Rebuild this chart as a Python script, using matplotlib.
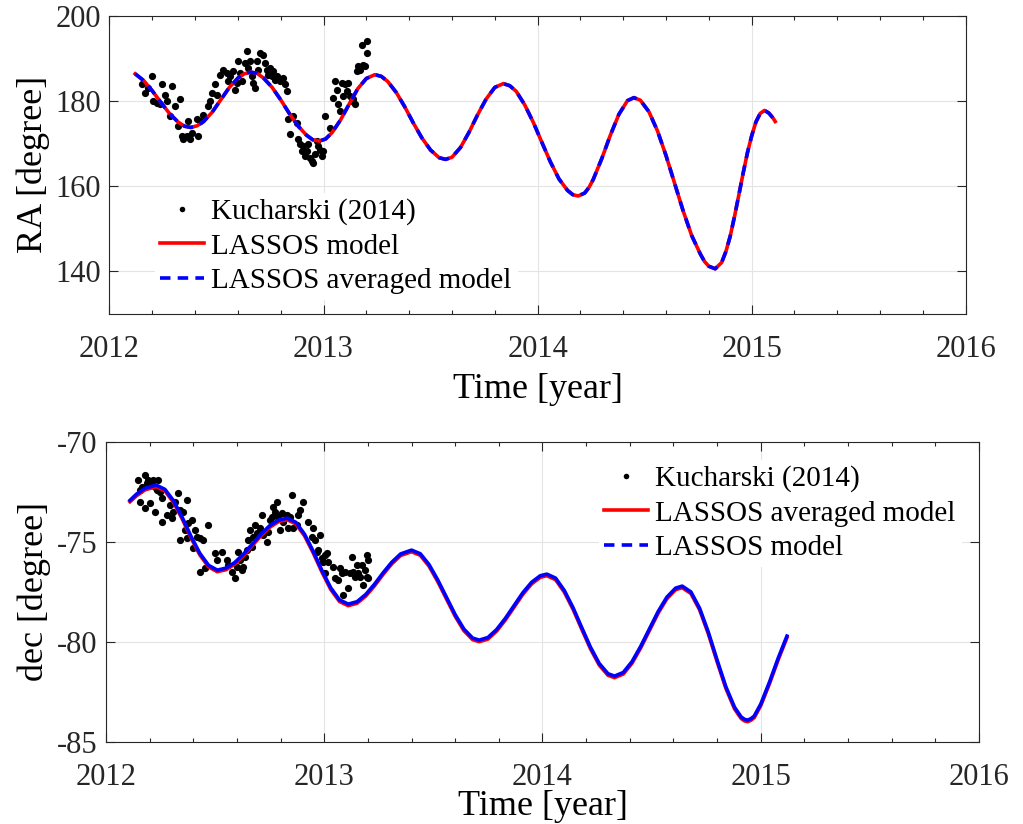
import matplotlib
matplotlib.use('Agg')
import matplotlib.pyplot as plt
from matplotlib.lines import Line2D
from matplotlib.ticker import MultipleLocator

plt.rcParams['font.family'] = ['Liberation Serif', 'DejaVu Serif']
plt.rcParams['axes.unicode_minus'] = False

# ---- RA panel: observations (Kucharski 2014)
obs_ra_t = [2012.150, 2012.166, 2012.181, 2012.197, 2012.205, 2012.220, 2012.236, 2012.244, 2012.259,
            2012.267, 2012.283, 2012.290, 2012.306, 2012.322, 2012.329, 2012.337, 2012.345, 2012.361,
            2012.368, 2012.376, 2012.384, 2012.407, 2012.415, 2012.423, 2012.438, 2012.462, 2012.470,
            2012.477, 2012.493, 2012.501, 2012.516, 2012.532, 2012.547, 2012.555, 2012.563, 2012.579,
            2012.586, 2012.594, 2012.602, 2012.610, 2012.618, 2012.633, 2012.641, 2012.649, 2012.656,
            2012.664, 2012.672, 2012.680, 2012.688, 2012.695, 2012.703, 2012.719, 2012.727, 2012.734,
            2012.742, 2012.750, 2012.758, 2012.766, 2012.773, 2012.781, 2012.797, 2012.812, 2012.820,
            2012.828, 2012.836, 2012.843, 2012.859, 2012.875, 2012.882, 2012.890, 2012.898, 2012.906,
            2012.913, 2012.921, 2012.929, 2012.937, 2012.945, 2012.952, 2012.960, 2012.968, 2012.976,
            2012.984, 2012.991, 2012.999, 2013.007, 2013.030, 2013.046, 2013.054, 2013.061, 2013.069,
            2013.077, 2013.085, 2013.093, 2013.100, 2013.108, 2013.116, 2013.124, 2013.132, 2013.139,
            2013.147, 2013.155, 2013.163, 2013.171, 2013.178, 2013.186, 2013.194, 2013.202, 2013.202]
obs_ra = [183.9, 181.9, 183.1, 185.8, 180.0, 179.6, 179.2, 183.9, 181.5,
          180.0, 176.5, 183.5, 178.8, 174.1, 180.4, 171.8, 171.0, 171.8,
          175.3, 171.0, 172.6, 175.7, 171.8, 175.3, 176.8, 178.8, 180.0,
          181.9, 183.9, 181.5, 186.2, 187.4, 186.6, 184.6, 185.8, 187.0,
          182.7, 184.3, 189.3, 186.6, 184.6, 188.9, 191.7, 187.8, 189.3,
          185.8, 184.3, 183.1, 189.3, 187.4, 191.3, 190.9, 188.9, 187.4,
          186.2, 187.8, 185.8, 187.0, 185.0, 185.8, 184.6, 185.4, 183.9,
          182.3, 175.7, 172.2, 176.5, 174.9, 171.0, 169.8, 168.3, 169.4,
          167.1, 168.3, 169.8, 166.7, 165.9, 165.5, 167.5, 170.6, 169.4,
          168.6, 167.1, 168.3, 176.5, 173.7, 180.8, 184.6, 182.7, 179.2,
          177.6, 184.3, 181.1, 183.9, 182.3, 184.3, 181.1, 180.0, 180.4,
          179.2, 187.0, 188.2, 187.4, 193.2, 188.5, 188.2, 194.0, 191.3]

# ---- RA panel: models
ra_t = [2012.12, 2012.16, 2012.20, 2012.24, 2012.28, 2012.32, 2012.35, 2012.38, 2012.41,
        2012.44, 2012.48, 2012.52, 2012.56, 2012.60, 2012.63, 2012.66, 2012.69,
        2012.72, 2012.76, 2012.80, 2012.84, 2012.88, 2012.92, 2012.95, 2012.98, 2013.01,
        2013.04, 2013.08, 2013.12, 2013.16, 2013.20, 2013.24, 2013.27,
        2013.30, 2013.34, 2013.38, 2013.42, 2013.46, 2013.50, 2013.54, 2013.57, 2013.60,
        2013.64, 2013.68, 2013.72, 2013.76, 2013.80, 2013.84, 2013.87,
        2013.90, 2013.94, 2013.98, 2014.02, 2014.06, 2014.10, 2014.14, 2014.165, 2014.19, 2014.22, 2014.24,
        2014.26, 2014.30, 2014.34, 2014.38, 2014.42, 2014.45, 2014.48,
        2014.52, 2014.56, 2014.60, 2014.64, 2014.68, 2014.72, 2014.76, 2014.78, 2014.80, 2014.83,
        2014.86, 2014.88, 2014.90, 2014.92, 2014.94, 2014.96, 2014.98, 2015.00, 2015.02, 2015.04,
        2015.06, 2015.08, 2015.10, 2015.11]
ra_model = [186.4, 184.8, 182.4, 179.7, 177.1, 175.1, 174.1, 173.8, 174.2,
            175.2, 177.4, 180.3, 183.2, 185.4, 186.4, 186.8, 186.5,
            185.4, 183.2, 180.3, 177.1, 174.2, 172.0, 170.9, 170.6, 171.1,
            172.6, 175.6, 179.3, 182.9, 185.3, 186.2, 185.8,
            184.6, 182.0, 178.6, 174.8, 171.3, 168.5, 166.7, 166.3, 166.8,
            169.1, 172.7, 176.8, 180.5, 183.2, 184.1, 183.6,
            182.3, 179.1, 175.0, 170.3, 165.7, 161.7, 159.0, 158.0, 157.7, 158.4, 159.7,
            161.6, 166.5, 172.0, 176.9, 180.1, 180.8, 180.2,
            177.5, 173.0, 167.2, 160.7, 154.2, 148.4, 144.1, 142.3, 141.2, 140.6,
            142.1, 144.7, 148.3, 152.9, 157.9, 163.0, 167.8, 171.8, 175.1, 177.1,
            177.8, 177.2, 176.0, 175.2]
ra_avg = [186.4, 184.8, 182.4, 179.7, 177.1, 175.1, 174.1, 173.8, 174.2,
          175.2, 177.4, 180.3, 183.2, 185.4, 186.4, 186.8, 186.5,
          185.4, 183.2, 180.3, 177.1, 174.2, 172.0, 170.9, 170.6, 171.1,
          172.6, 175.6, 179.3, 182.9, 185.3, 186.2, 185.8,
          184.6, 182.0, 178.6, 174.8, 171.3, 168.5, 166.7, 166.3, 166.8,
          169.1, 172.7, 176.8, 180.5, 183.2, 184.1, 183.6,
          182.3, 179.1, 175.0, 170.3, 165.7, 161.7, 159.0, 158.0, 157.7, 158.4, 159.7,
          161.6, 166.5, 172.0, 176.9, 180.1, 180.8, 180.2,
          177.5, 173.0, 167.2, 160.7, 154.2, 148.4, 144.1, 142.3, 141.2, 140.6,
          142.1, 144.7, 148.3, 152.9, 157.9, 163.0, 167.8, 171.8, 175.1, 177.1,
          177.8, 177.2, 176.0, 175.2]

# ---- dec panel: observations
obs_dec_t = [2012.148, 2012.156, 2012.163, 2012.179, 2012.186, 2012.194, 2012.209, 2012.217, 2012.224,
             2012.232, 2012.240, 2012.247, 2012.255, 2012.156, 2012.179, 2012.201, 2012.224, 2012.255,
             2012.278, 2012.301, 2012.308, 2012.293, 2012.316, 2012.331, 2012.339, 2012.354, 2012.362,
             2012.369, 2012.377, 2012.392, 2012.408, 2012.400, 2012.339, 2012.369, 2012.415, 2012.431,
             2012.446, 2012.469, 2012.431, 2012.453, 2012.499, 2012.507, 2012.530, 2012.553, 2012.560,
             2012.576, 2012.591, 2012.599, 2012.606, 2012.614, 2012.621, 2012.629, 2012.637, 2012.644,
             2012.652, 2012.660, 2012.667, 2012.675, 2012.683, 2012.690, 2012.705, 2012.713, 2012.721,
             2012.736, 2012.744, 2012.751, 2012.759, 2012.767, 2012.774, 2012.782, 2012.789, 2012.797,
             2012.805, 2012.812, 2012.828, 2012.835, 2012.843, 2012.851, 2012.858, 2012.873, 2012.881,
             2012.889, 2012.904, 2012.927, 2012.942, 2012.950, 2012.957, 2012.965, 2012.973, 2012.980,
             2012.988, 2012.996, 2013.003, 2013.011, 2013.019, 2013.003, 2013.041, 2013.049, 2013.064,
             2013.072, 2013.080, 2013.087, 2013.095, 2013.110, 2013.118, 2013.125, 2013.133, 2013.141,
             2013.148, 2013.156, 2013.164, 2013.171, 2013.179, 2013.187, 2013.194, 2013.194, 2013.202,
             2013.202]
obs_dec = [-71.92, -72.42, -72.25, -71.67, -72.08, -71.92, -72.08, -71.92, -72.25,
           -72.42, -71.92, -72.50, -72.83, -73.00, -73.33, -73.08, -73.50, -74.00,
           -73.67, -73.83, -73.50, -73.17, -73.00, -72.58, -73.42, -73.50, -74.42,
           -72.92, -74.08, -73.92, -74.42, -75.33, -74.92, -74.83, -74.75, -74.83,
           -74.92, -74.17, -76.50, -76.33, -75.58, -75.92, -75.50, -75.92, -76.17,
           -76.50, -76.83, -76.25, -75.50, -75.92, -76.42, -76.25, -75.75, -75.42,
           -74.92, -74.42, -75.25, -74.75, -74.17, -74.58, -74.33, -73.67, -74.67,
           -75.00, -74.50, -73.92, -73.75, -73.25, -73.50, -73.00, -73.75, -74.42,
           -73.58, -74.00, -73.67, -74.33, -73.75, -72.67, -74.33, -74.17, -73.67,
           -73.42, -73.00, -74.00, -74.75, -74.33, -74.92, -75.50, -75.42, -74.67,
           -75.83, -76.00, -75.67, -75.58, -76.00, -76.58, -76.25, -76.83, -76.92,
           -76.33, -76.58, -77.67, -76.50, -77.33, -76.58, -75.75, -76.50, -76.75,
           -76.17, -76.58, -76.75, -76.17, -77.17, -76.42, -75.67, -76.75, -75.92,
           -76.83]

# ---- dec panel: models
dec_t = [2012.11, 2012.14, 2012.18, 2012.23, 2012.27, 2012.31, 2012.35, 2012.39, 2012.43, 2012.47, 2012.51,
         2012.55, 2012.59, 2012.63, 2012.67, 2012.71, 2012.75, 2012.79, 2012.83,
         2012.87, 2012.91, 2012.95, 2012.99, 2013.03, 2013.07, 2013.11,
         2013.15, 2013.19, 2013.23, 2013.27, 2013.31, 2013.35, 2013.40,
         2013.44, 2013.48, 2013.52, 2013.56, 2013.60, 2013.64, 2013.68, 2013.71,
         2013.75, 2013.79, 2013.83, 2013.87, 2013.91, 2013.95, 2013.99, 2014.02,
         2014.06, 2014.10, 2014.14, 2014.18, 2014.22, 2014.26, 2014.30, 2014.33,
         2014.37, 2014.41, 2014.45, 2014.49, 2014.53, 2014.57, 2014.61, 2014.64,
         2014.68, 2014.72, 2014.76, 2014.80, 2014.84, 2014.88, 2014.91, 2014.925, 2014.94, 2014.955,
         2014.97, 2015.00, 2015.04, 2015.08, 2015.12]
dec_avg = [-73.0, -72.7, -72.4, -72.25, -72.46, -73.04, -73.88, -74.82, -75.66, -76.26, -76.5,
           -76.4, -76.12, -75.7, -75.2, -74.7, -74.28, -74.0, -73.9,
           -74.11, -74.71, -75.57, -76.53, -77.39, -77.99, -78.2,
           -78.08, -77.72, -77.21, -76.63, -76.1, -75.69, -75.5,
           -75.68, -76.22, -76.99, -77.86, -78.73, -79.45, -79.9, -80.0,
           -79.87, -79.47, -78.91, -78.27, -77.63, -77.11, -76.78, -76.7,
           -76.9, -77.52, -78.38, -79.38, -80.36, -81.17, -81.68, -81.8,
           -81.62, -81.08, -80.31, -79.44, -78.57, -77.85, -77.4, -77.3,
           -77.59, -78.41, -79.61, -81.0, -82.33, -83.36, -83.84, -83.96, -84.0, -83.93,
           -83.8, -83.2, -82.1, -80.9, -79.8]
dec_model = [-72.93, -72.62, -72.32, -72.17, -72.38, -72.96, -73.8, -74.74, -75.58, -76.18, -76.42,
             -76.32, -76.04, -75.62, -75.12, -74.62, -74.2, -73.92, -73.82,
             -74.03, -74.63, -75.49, -76.45, -77.31, -77.91, -78.12,
             -78.0, -77.64, -77.13, -76.55, -76.02, -75.61, -75.42,
             -75.6, -76.14, -76.91, -77.78, -78.65, -79.37, -79.82, -79.92,
             -79.79, -79.39, -78.83, -78.19, -77.55, -77.03, -76.7, -76.62,
             -76.82, -77.44, -78.3, -79.3, -80.28, -81.09, -81.6, -81.72,
             -81.54, -81.0, -80.23, -79.36, -78.49, -77.77, -77.32, -77.22,
             -77.51, -78.33, -79.53, -80.92, -82.25, -83.28, -83.76, -83.88, -83.92, -83.85,
             -83.72, -83.12, -82.02, -80.82, -79.72]

year_ticks = [2012, 2013, 2014, 2015, 2016]
ra_ticks = [140, 160, 180, 200]
dec_ticks = [-85, -80, -75, -70]

dark = '#262626'


def style_axes(ax):
    ax.set_xlim(2012, 2016)
    ax.set_xticks(year_ticks)
    ax.set_xticklabels([str(y) for y in year_ticks])
    ax.xaxis.set_minor_locator(MultipleLocator(0.2))
    ax.tick_params(which='both', direction='in', top=True, right=True,
                   colors=dark, labelsize=22, width=0.8)
    ax.tick_params(which='major', length=6.5)
    ax.tick_params(which='minor', length=3.2)
    ax.tick_params(axis='x', pad=15)
    ax.tick_params(axis='y', pad=6)
    ax.grid(True, which='major', color='#e4e4e4', lw=0.8)
    ax.set_axisbelow(True)
    for s in ax.spines.values():
        s.set_color(dark)
        s.set_linewidth(0.8)


fig = plt.figure(figsize=(10.23, 8.24), dpi=100)
ax1 = fig.add_axes([0.107, 0.619, 0.837, 0.3617])
ax2 = fig.add_axes([0.1036, 0.0999, 0.8534, 0.364])

# top panel
ax1.plot(obs_ra_t, obs_ra, 'o', color='k', ms=5.2, mew=0)
ax1.plot(ra_t, ra_model, color='red', lw=2.6, solid_joinstyle='round')
ax1.plot(ra_t, ra_avg, color='blue', lw=2.6, dashes=(2.9, 2.0))
style_axes(ax1)
ax1.set_ylim(130, 200)
ax1.set_yticks(ra_ticks)
ax1.set_xlabel('Time [year]', fontsize=26, labelpad=7)
ax1.set_ylabel('RA [degree]', fontsize=26, labelpad=4)

h1 = [Line2D([], [], ls='none', marker='o', ms=4, mew=0, color='k'),
      Line2D([], [], color='red', lw=2.6),
      Line2D([], [], color='blue', lw=2.6, dashes=(2.9, 2.0))]
ax1.legend(h1, ['Kucharski (2014)', 'LASSOS model', 'LASSOS averaged model'],
           loc='upper left', bbox_to_anchor=(140 / 1023, 1 - 178 / 824),
           bbox_transform=fig.transFigure, fontsize=21, frameon=True,
           fancybox=False, edgecolor='none', facecolor='white', framealpha=1,
           handlelength=1.5, handletextpad=0.25, labelspacing=0.27, borderpad=0.2)

# bottom panel
ax2.plot(obs_dec_t, obs_dec, 'o', color='k', ms=5.2, mew=0)
ax2.plot(dec_t, dec_avg, color='red', lw=2.6, solid_joinstyle='round')
ax2.plot(dec_t, dec_model, color='blue', lw=2.6, solid_joinstyle='round')
style_axes(ax2)
ax2.set_ylim(-85, -70)
ax2.set_yticks(dec_ticks)
ax2.set_xlabel('Time [year]', fontsize=26, labelpad=-1)
ax2.set_ylabel('dec [degree]', fontsize=26, labelpad=4)

h2 = [Line2D([], [], ls='none', marker='o', ms=4, mew=0, color='k'),
      Line2D([], [], color='red', lw=2.6),
      Line2D([], [], color='blue', lw=2.6, dashes=(2.9, 2.0))]
ax2.legend(h2, ['Kucharski (2014)', 'LASSOS averaged model', 'LASSOS model'],
           loc='upper left', bbox_to_anchor=(584 / 1023, 1 - 445 / 824),
           bbox_transform=fig.transFigure, fontsize=21, frameon=True,
           fancybox=False, edgecolor='none', facecolor='white', framealpha=1,
           handlelength=1.5, handletextpad=0.25, labelspacing=0.27, borderpad=0.2)

fig.savefig('out.png', dpi=100)
